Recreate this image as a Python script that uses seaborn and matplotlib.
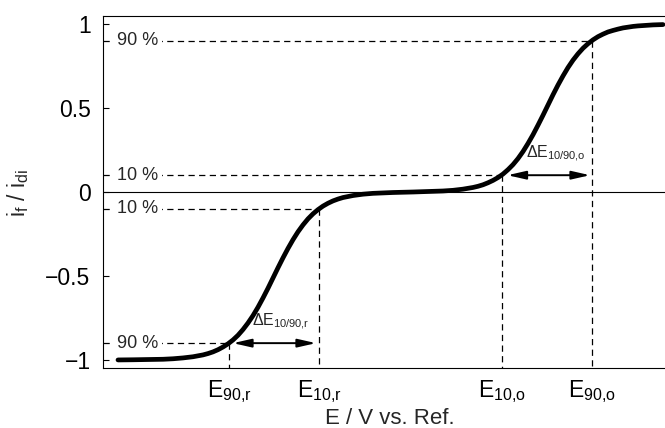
import matplotlib
matplotlib.use("Agg")
import matplotlib.pyplot as plt
import pandas as pd
import seaborn as sns

# Normalised voltammetric response: reduction wave (left) and oxidation wave (right)
potential = [0.15, 0.3, 0.5, 0.6, 0.7, 0.8, 0.9, 1.0, 1.05, 1.1,
             1.15, 1.2, 1.25, 1.3, 1.35, 1.4, 1.45, 1.5, 1.55, 1.6,
             1.65, 1.7, 1.75, 1.8, 1.85, 1.9, 1.95, 2.0, 2.05, 2.1,
             2.15, 2.2, 2.25, 2.3, 2.35, 2.4, 2.5, 2.6, 2.7, 2.9,
             3.1, 3.3, 3.4, 3.5, 3.6, 3.7, 3.75, 3.8, 3.85, 3.9,
             3.95, 4.0, 4.05, 4.1, 4.15, 4.2, 4.25, 4.3, 4.35, 4.4,
             4.45, 4.5, 4.55, 4.6, 4.65, 4.7, 4.75, 4.8, 4.85, 4.9,
             4.95, 5.0, 5.05, 5.1, 5.15, 5.2, 5.3, 5.35, 5.45, 5.5,
             5.6]
current = [-1.000, -0.999, -0.997, -0.996, -0.993, -0.988, -0.981, -0.970, -0.962, -0.952,
           -0.939, -0.923, -0.904, -0.881, -0.853, -0.819, -0.780, -0.736, -0.686, -0.631,
           -0.573, -0.512, -0.451, -0.392, -0.336, -0.284, -0.237, -0.196, -0.160, -0.130,
           -0.105, -0.084, -0.067, -0.053, -0.042, -0.033, -0.021, -0.013, -0.008, -0.003,
           0.000, 0.004, 0.006, 0.010, 0.017, 0.027, 0.034, 0.043, 0.055, 0.069,
           0.086, 0.107, 0.133, 0.163, 0.199, 0.241, 0.289, 0.341, 0.398, 0.457,
           0.518, 0.579, 0.637, 0.691, 0.741, 0.785, 0.823, 0.856, 0.883, 0.906,
           0.925, 0.940, 0.953, 0.962, 0.970, 0.977, 0.986, 0.989, 0.993, 0.995,
           0.997]

# Characteristic 10 % / 90 % levels and their potentials
level_text = ["90 %", "10 %", "10 %", "90 %"]
level_current = [0.9, 0.1, -0.1, -0.9]
level_potential = [4.89, 3.985, 2.16, 1.26]
level_ticklabels = [r"$E_{90{,}o}$", r"$E_{10{,}o}$", r"$E_{10{,}r}$", r"$E_{90{,}r}$"]

y_ticks = [-1, -0.5, 0, 0.5, 1]
y_ticklabels = ["\u22121", "\u22120.5", "0", "0.5", "1"]

sns.set_theme(style="ticks")
plt.rcParams["font.family"] = ["Liberation Sans", "DejaVu Sans"]
plt.rcParams["mathtext.fontset"] = "custom"
plt.rcParams["mathtext.rm"] = "Liberation Sans"
plt.rcParams["mathtext.it"] = "Liberation Sans"
plt.rcParams["mathtext.default"] = "regular"

fig = plt.figure(figsize=(6.65, 4.28), dpi=100)
ax = fig.add_axes([103 / 665, 1 - 368 / 428, 1 - 103 / 665, (368 - 16) / 428])

df = pd.DataFrame({"E": potential, "i": current})

# Zero-current line
ax.axhline(0, color="black", lw=0.8, zorder=1)

dash = (0, (5, 3.5))
xmin, xmax = 0.0, 5.62
ymin, ymax = -1.048, 1.048

for txt, lev, pot in zip(level_text, level_current, level_potential):
    ax.plot([xmin, pot], [lev, lev], color="black", lw=0.9, ls=dash, zorder=2)
    ax.plot([pot, pot], [lev, ymin], color="black", lw=0.9, ls=dash, zorder=2)
    ax.text(0.14, lev, txt, fontsize=13, ha="left", va="center", zorder=3,
            bbox=dict(boxstyle="square,pad=0.2", fc="white", ec="none"))

sns.lineplot(data=df, x="E", y="i", ax=ax, color="black", lw=3.4, zorder=4,
             solid_capstyle="round")

# Width of each wave between its 10 % and 90 % points
arrow_kw = dict(arrowstyle="<|-|>,head_length=1.1,head_width=0.25", color="black",
                lw=1.4, shrinkA=0, shrinkB=0, mutation_scale=10)
ax.annotate("", xy=(level_potential[1] + 0.06, level_current[1]),
            xytext=(level_potential[0] - 0.02, level_current[1]), arrowprops=arrow_kw)
ax.annotate("", xy=(level_potential[3] + 0.04, level_current[3]),
            xytext=(level_potential[2] - 0.03, level_current[3]), arrowprops=arrow_kw)
ax.text(4.53, 0.1 + 0.065, "\u0394$E_{10/90{,}o}$", fontsize=11.5, ha="center", va="bottom")
ax.text(1.78, -0.9 + 0.065, "\u0394$E_{10/90{,}r}$", fontsize=11.5, ha="center", va="bottom")

ax.set_xlim(xmin, xmax)
ax.set_ylim(ymin, ymax)
ax.set_yticks(y_ticks)
ax.set_yticklabels(y_ticklabels, fontsize=16.5)
ax.set_xticks(level_potential)
ax.set_xticklabels(level_ticklabels, fontsize=16.5)
ax.tick_params(axis="y", direction="in", length=4, width=0.8, pad=9, colors="black")
ax.tick_params(axis="x", length=0, pad=7, colors="black")

ax.set_xlabel("E / V vs. Ref.", fontsize=16)
ax.xaxis.label.set_va("baseline")
ax.xaxis.set_label_coords((390 - 103) / 562, (368 - 424) / 352)
ax.set_ylabel("$i_f$ / $i_{di}$", fontsize=16.5)
ax.yaxis.set_label_coords((31 - 103) / 562, 0.497)

for side in ["left", "top", "bottom"]:
    ax.spines[side].set_color("black")
    ax.spines[side].set_linewidth(0.8)
ax.spines["right"].set_visible(False)

fig.savefig("out.png", dpi=100)
